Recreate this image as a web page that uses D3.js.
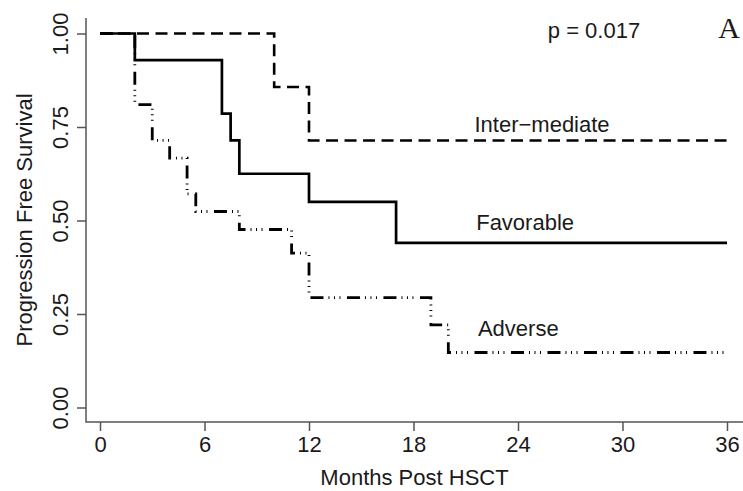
<!DOCTYPE html>
<html>
<head>
<meta charset="utf-8">
<script src="https://cdn.jsdelivr.net/npm/d3@7"></script>
<style>
    body { margin: 0; background: #fff; }
    svg { display: block; }
    text { font-family: "Liberation Sans", Arial, Helvetica, sans-serif; fill: #1a1a1a; }
</style>
</head>
<body>
<script>

//////////////////////////////////////////////////////////////////////////////
// #region Data
//

var xTicks = [0, 6, 12, 18, 24, 30, 36];
var yTicks = [0, 0.25, 0.5, 0.75, 1];
var yTickLabels = ["0.00", "0.25", "0.50", "0.75", "1.00"];

// Kaplan-Meier steps (months, survival)
var favorableTimes = [0, 2, 7, 7.5, 8, 12, 17, 36];
var favorableSurv  = [1, 0.929, 0.786, 0.714, 0.625, 0.55, 0.44, 0.44];

var intermediateTimes = [0, 10, 12, 36];
var intermediateSurv  = [1, 0.857, 0.714, 0.714];

var adverseTimes = [0, 2, 3, 4, 5, 5.5, 8, 11, 12, 19, 20, 36];
var adverseSurv  = [1, 0.81, 0.714, 0.667, 0.571, 0.524, 0.476, 0.413, 0.294, 0.221, 0.147, 0.147];

var groupNames = ["Inter\u2212mediate", "Favorable", "Adverse"];
var pText = "p = 0.017";
var panelLetter = "A";

//
// #endregion Data
//////////////////////////////////////////////////////////////////////////////

var width = 743,
    height = 491;

var frame = { left: 86, bottom: 422, top: 18, right: 743 };

var svg = d3.select("body").append("svg")
    .attr("width", width)
    .attr("height", height);

var x = d3.scaleLinear().domain([0, 36]).range([100, 727]);
var y = d3.scaleLinear().domain([0, 1]).range([407.5, 33.5]);

// L shaped frame (bty = "l")
svg.append("path")
    .attr("d", "M" + frame.left + "," + frame.top + "V" + frame.bottom + "H" + frame.right)
    .attr("fill", "none")
    .attr("stroke", "#555")
    .attr("stroke-width", 1.5);

// x axis
var xAxis = svg.append("g")
    .attr("transform", "translate(0," + frame.bottom + ")")
    .call(d3.axisBottom(x).tickValues(xTicks).tickSize(9).tickPadding(5).tickFormat(d3.format("d")));

xAxis.select(".domain").remove();
xAxis.selectAll("line").attr("stroke", "#555").attr("stroke-width", 1.5);
xAxis.selectAll("text")
    .style("font-size", "22px")
    .attr("fill", "#1a1a1a");

// y axis, labels turned like R's las = 0
var yAxis = svg.append("g")
    .attr("transform", "translate(" + frame.left + ",0)")
    .call(d3.axisLeft(y).tickValues(yTicks).tickSize(9).tickFormat(function(d, i) { return yTickLabels[i]; }));

yAxis.select(".domain").remove();
yAxis.selectAll("line").attr("stroke", "#555").attr("stroke-width", 1.5);
yAxis.selectAll("text")
    .attr("x", 0)
    .attr("y", -18)
    .attr("dy", 0)
    .attr("text-anchor", "middle")
    .attr("transform", "rotate(-90)")
    .style("font-size", "22px")
    .attr("fill", "#1a1a1a");

// axis titles
svg.append("text")
    .attr("x", (frame.left + frame.right) / 2)
    .attr("y", 485)
    .attr("text-anchor", "middle")
    .style("font-size", "22px")
    .text("Months Post HSCT");

svg.append("text")
    .attr("transform", "translate(32," + (frame.top + frame.bottom) / 2 + ")rotate(-90)")
    .attr("text-anchor", "middle")
    .style("font-size", "22px")
    .text("Progression Free Survival");

// survival curves
function steps(times, surv) {
    return times.map(function(t, i) { return [t, surv[i]]; });
}

var line = d3.line()
    .x(function(d) { return x(d[0]); })
    .y(function(d) { return y(d[1]); })
    .curve(d3.curveStepAfter);

var curves = [
    { pts: steps(intermediateTimes, intermediateSurv), dash: "12,6.5", w: 2.6 },
    { pts: steps(favorableTimes, favorableSurv), dash: null, w: 2.7 },
    { pts: steps(adverseTimes, adverseSurv), dash: "13,5,1,4.5,1,4.5,1,6.5", w: 2.8 }
];

svg.selectAll("path.km")
    .data(curves)
    .enter().append("path")
    .attr("class", "km")
    .attr("d", function(d) { return line(d.pts); })
    .attr("fill", "none")
    .attr("stroke", "#000")
    .attr("stroke-width", function(d) { return d.w; })
    .attr("stroke-dasharray", function(d) { return d.dash; });

// group labels, placed next to their plateaus
var labelPos = [
    { t: 21.5, s: 0.737 },
    { t: 21.6, s: 0.475 },
    { t: 21.7, s: 0.19 }
];

svg.selectAll("text.group")
    .data(groupNames)
    .enter().append("text")
    .attr("class", "group")
    .attr("x", function(d, i) { return x(labelPos[i].t); })
    .attr("y", function(d, i) { return y(labelPos[i].s); })
    .style("font-size", "22px")
    .text(function(d) { return d; });

svg.append("text")
    .attr("x", 594)
    .attr("y", 38)
    .attr("text-anchor", "middle")
    .style("font-size", "22px")
    .text(pText);

svg.append("text")
    .attr("x", 740)
    .attr("y", 38)
    .attr("text-anchor", "end")
    .style("font-family", "'Liberation Serif', 'DejaVu Serif', serif")
    .style("font-size", "30px")
    .text(panelLetter);

</script>
</body>
</html>
